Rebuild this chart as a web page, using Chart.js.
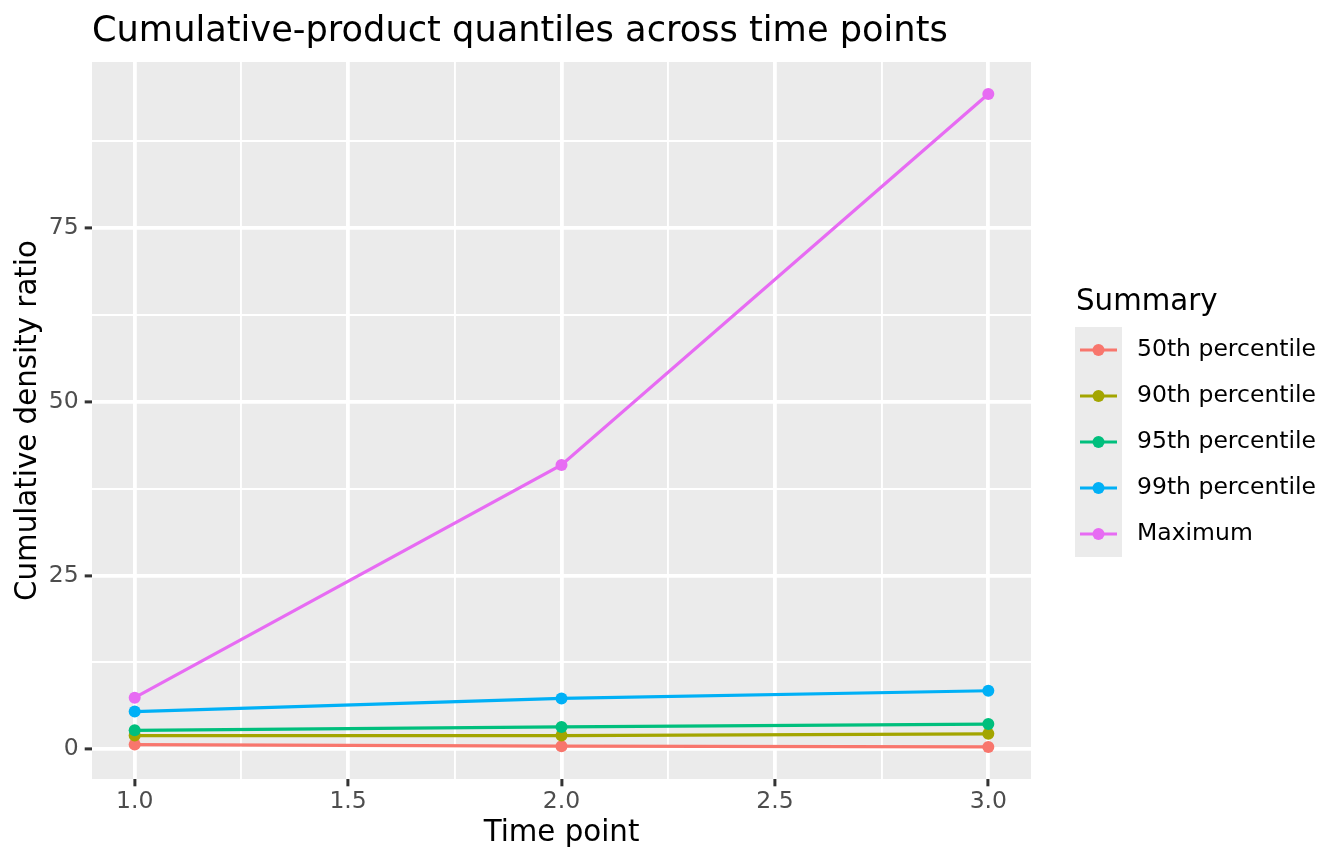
<!DOCTYPE html>
<html>
<head>
<meta charset="utf-8">
<script src="https://cdn.jsdelivr.net/npm/chart.js@4.4.1/dist/chart.umd.min.js"></script>
<style>
  html, body { margin: 0; padding: 0; background: #ffffff; }
  #wrap { width: 1344px; height: 864px; }
</style>
</head>
<body>
<div id="wrap"><canvas id="myChart" width="1344" height="864"></canvas></div>
<script>
const ctx = document.getElementById('myChart');

// data
const timePoints = [1, 2, 3];
const p50 = [0.65, 0.42, 0.32];
const p90 = [1.95, 1.95, 2.2];
const p95 = [2.7, 3.2, 3.6];
const p99 = [5.4, 7.3, 8.4];
const maximum = [7.4, 40.9, 94.3];

const seriesNames = ['50th percentile', '90th percentile', '95th percentile', '99th percentile', 'Maximum'];
const seriesValues = [p50, p90, p95, p99, maximum];
const seriesColors = ['#F8766D', '#A3A500', '#00BF7D', '#00B0F6', '#E76BF3'];

const xMajor = [1, 1.5, 2, 2.5, 3];
const xMinor = [1.25, 1.75, 2.25, 2.75];
const yMajor = [0, 25, 50, 75];
const yMinor = [12.5, 37.5, 62.5, 87.5];

const titleText = 'Cumulative-product quantiles across time points';
const legendTitle = 'Summary';

const FONT = '"DejaVu Sans", Verdana, sans-serif';
const LINE_W = 3.2;
const POINT_R = 6;

const toPoints = (vals) => timePoints.map((t, i) => ({ x: t, y: vals[i] }));

// lines first (drawn underneath), then the points on top, like ggplot
const datasets = [];
seriesNames.forEach((name, i) => {
  datasets.push({
    label: name,
    data: toPoints(seriesValues[i]),
    showLine: true,
    borderColor: seriesColors[i],
    borderWidth: LINE_W,
    pointRadius: 0,
    order: 20 - i,
  });
});
seriesNames.forEach((name, i) => {
  datasets.push({
    label: name + ' points',
    data: toPoints(seriesValues[i]),
    showLine: false,
    backgroundColor: seriesColors[i],
    borderWidth: 0,
    pointRadius: POINT_R,
    order: 10 - i,
  });
});

const isMajor = (list, v) => list.some((m) => Math.abs(m - v) < 1e-9);

const panelAndText = {
  id: 'panelAndText',
  beforeDraw(chart) {
    const { ctx: c, chartArea: a } = chart;
    c.save();
    c.fillStyle = '#EBEBEB';
    c.fillRect(a.left, a.top, a.right - a.left, a.bottom - a.top);
    c.restore();
  },
  afterDraw(chart) {
    const c = chart.ctx;
    const a = chart.chartArea;
    c.save();
    // plot title
    c.fillStyle = '#000000';
    c.font = '35.2px ' + FONT;
    c.textAlign = 'left';
    c.textBaseline = 'alphabetic';
    c.fillText(titleText, a.left, 41);

    // legend
    const keyX = 1075, keyW = 47, keyH = 46, keyTop = 327;
    c.font = '29.3px ' + FONT;
    c.fillText(legendTitle, 1076, 310);
    c.fillStyle = '#EBEBEB';
    c.fillRect(keyX, keyTop, keyW, keyH * seriesNames.length);
    c.font = '23.5px ' + FONT;
    c.textBaseline = 'middle';
    seriesNames.forEach((name, i) => {
      const cy = keyTop + keyH * i + keyH / 2;
      c.strokeStyle = seriesColors[i];
      c.lineWidth = LINE_W;
      c.beginPath();
      c.moveTo(keyX + 5, cy);
      c.lineTo(keyX + keyW - 5, cy);
      c.stroke();
      c.fillStyle = seriesColors[i];
      c.beginPath();
      c.arc(keyX + keyW / 2, cy, POINT_R, 0, Math.PI * 2);
      c.fill();
      c.fillStyle = '#000000';
      c.fillText(name, 1137, cy);
    });
    c.restore();
  },
};

const myChart = new Chart(ctx, {
  type: 'scatter',
  data: { datasets: datasets },
  plugins: [panelAndText],
  options: {
    responsive: false,
    animation: false,
    layout: {
      padding: { top: 62, right: 313, left: 0, bottom: 0 },
    },
    scales: {
      x: {
        type: 'linear',
        min: 0.9,
        max: 3.1,
        afterBuildTicks: (scale) => {
          scale.ticks = xMajor.concat(xMinor).sort((a, b) => a - b).map((v) => ({ value: v }));
        },
        afterFit: (scale) => {
          scale.height = 85;
        },
        border: { display: false },
        grid: {
          color: '#FFFFFF',
          lineWidth: (c) => (isMajor(xMajor, c.tick.value) ? 3.8 : 1.9),
          drawTicks: true,
          tickLength: 7.3,
          tickWidth: 3,
          tickColor: (c) => (isMajor(xMajor, c.tick.value) ? '#333333' : 'rgba(0,0,0,0)'),
        },
        ticks: {
          autoSkip: false,
          maxRotation: 0,
          padding: 1.5,
          color: '#4D4D4D',
          font: { family: FONT, size: 23.5 },
          callback: (v) => (isMajor(xMajor, v) ? v.toFixed(1) : ''),
        },
        title: {
          display: true,
          text: 'Time point',
          color: '#000000',
          font: { family: FONT, size: 29.3 },
          padding: { top: 0, bottom: 13 },
        },
      },
      y: {
        type: 'linear',
        min: -4.3,
        max: 98.9,
        afterBuildTicks: (scale) => {
          scale.ticks = yMajor.concat(yMinor).sort((a, b) => a - b).map((v) => ({ value: v }));
        },
        afterFit: (scale) => {
          scale.width = 92;
        },
        border: { display: false },
        grid: {
          color: '#FFFFFF',
          lineWidth: (c) => (isMajor(yMajor, c.tick.value) ? 3.8 : 1.9),
          drawTicks: true,
          tickLength: 7.3,
          tickWidth: 3,
          tickColor: (c) => (isMajor(yMajor, c.tick.value) ? '#333333' : 'rgba(0,0,0,0)'),
        },
        ticks: {
          autoSkip: false,
          padding: 6,
          color: '#4D4D4D',
          font: { family: FONT, size: 23.5 },
          callback: (v) => (isMajor(yMajor, v) ? String(v) : ''),
        },
        title: {
          display: true,
          text: 'Cumulative density ratio',
          color: '#000000',
          font: { family: FONT, size: 29.3 },
          padding: { top: 11, bottom: 0 },
        },
      },
    },
    plugins: {
      legend: { display: false },
      tooltip: { enabled: false },
      title: { display: false },
    },
  },
});
</script>
</body>
</html>
